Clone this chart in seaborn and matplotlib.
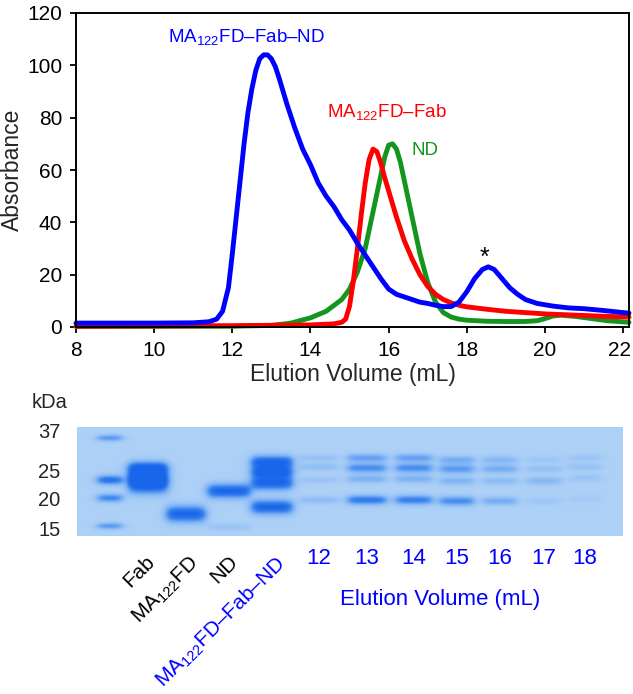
import numpy as np
import matplotlib
matplotlib.use("Agg")
import matplotlib.pyplot as plt
import matplotlib.transforms as mtransforms
from matplotlib.colors import LinearSegmentedColormap
import seaborn as sns

# chromatogram traces (elution volume mL, absorbance)
complex_x = [8.0, 9.0, 10.0, 11.0, 11.4, 11.6, 11.75, 11.9, 12.0, 12.1, 12.2, 12.3, 12.4, 12.5,
             12.6, 12.7, 12.8, 12.9, 13.0, 13.1, 13.2, 13.4, 13.6, 13.8, 14.0, 14.2, 14.4, 14.6,
             14.8, 15.0, 15.2, 15.4, 15.6, 15.8, 16.0, 16.2, 16.4, 16.6, 16.8, 17.0, 17.2, 17.4,
             17.6, 17.8, 18.0, 18.2, 18.4, 18.55, 18.7, 18.9, 19.1, 19.3, 19.5, 19.8, 20.2, 20.6,
             21.0, 21.5, 22.0, 22.15]
complex_y = [1.5, 1.5, 1.5, 1.6, 2.0, 3.0, 6.0, 15.0, 28.0, 42.0, 56.0, 70.0, 82.0, 91.0,
             98.0, 102.5, 104.0, 104.0, 102.5, 99.5, 95.0, 85.0, 76.0, 68.0, 62.0, 55.0, 50.0, 46.0,
             41.0, 37.0, 32.0, 27.5, 23.0, 18.5, 14.5, 12.5, 11.5, 10.5, 9.5, 9.0, 8.3, 7.8,
             7.8, 9.5, 13.5, 18.5, 22.0, 23.0, 22.0, 18.5, 15.0, 12.5, 10.5, 9.0, 8.0, 7.3,
             7.0, 6.3, 5.5, 5.3]

fab_x = [8.0, 10.0, 12.0, 14.0, 14.6, 14.8, 14.9, 15.0, 15.1, 15.2, 15.3, 15.4, 15.5, 15.6,
         15.7, 15.8, 15.9, 16.0, 16.2, 16.4, 16.6, 16.8, 17.0, 17.2, 17.4, 17.6, 17.8, 18.0,
         18.5, 19.0, 19.5, 20.0, 20.5, 21.0, 21.5, 22.15]
fab_y = [0.3, 0.4, 0.5, 0.8, 1.2, 1.8, 3.0, 8.0, 18.0, 30.0, 43.0, 55.0, 64.0, 68.0,
         67.0, 62.5, 57.0, 52.0, 42.0, 33.0, 26.0, 20.0, 15.5, 12.5, 10.5, 9.2, 8.3, 7.7,
         6.8, 6.0, 5.5, 5.0, 4.7, 4.4, 4.1, 3.8]

nd_x = [8.0, 12.0, 13.0, 13.5, 14.0, 14.4, 14.8, 15.0, 15.2, 15.4, 15.6, 15.8, 15.9, 16.0,
        16.1, 16.2, 16.3, 16.4, 16.6, 16.8, 17.0, 17.2, 17.4, 17.6, 17.8, 18.0, 18.5, 19.0,
        19.5, 19.8, 20.0, 20.2, 20.4, 20.8, 21.2, 21.6, 22.15]
nd_y = [0.2, 0.3, 0.6, 1.5, 3.5, 6.0, 10.5, 14.5, 21.0, 30.0, 44.0, 58.0, 65.0, 69.5,
        70.0, 68.0, 63.0, 56.0, 42.0, 28.0, 17.0, 9.5, 5.5, 3.8, 3.0, 2.6, 2.2, 2.1,
        2.1, 2.4, 3.2, 4.2, 4.5, 4.0, 3.2, 2.4, 1.8]

# gel: lane centres (px from gel left), half widths, bands (y px from gel top, strength, spread)
lane_names = ["ladder", "Fab", "MA122FD", "ND", "complex", "12", "13", "14", "15", "16", "17", "18"]
lane_x = [33, 71, 109, 152, 195, 242, 290, 337, 380, 423, 467, 508]
lane_hw = [12, 19, 19, 21, 20, 19, 19, 18, 17, 17, 17, 16]
lane_bands = [
    [(11, 0.5, 2.2), (53, 0.85, 3.2), (71, 0.65, 2.8), (99, 0.5, 2.2)],
    [(41, 1.0, 4.5), (50, 1.0, 5.5), (58, 1.0, 6.0)],
    [(87, 1.0, 5.5)],
    [(64, 1.0, 4.8), (100, 0.12, 2.5)],
    [(35, 1.0, 4.3), (45, 1.0, 4.3), (56, 1.0, 4.8), (80, 1.0, 4.8)],
    [(31, 0.15, 2.5), (40, 0.18, 2.5), (53, 0.12, 2.5), (73, 0.2, 2.5)],
    [(31, 0.45, 2.8), (41, 0.6, 3.2), (52, 0.3, 2.8), (73, 0.75, 3.2)],
    [(31, 0.45, 2.8), (41, 0.6, 3.2), (52, 0.3, 2.8), (73, 0.7, 3.2)],
    [(33, 0.35, 2.8), (42, 0.5, 3.2), (54, 0.28, 2.8), (74, 0.6, 3.2)],
    [(33, 0.25, 2.8), (42, 0.35, 2.8), (54, 0.2, 2.8), (74, 0.35, 2.8)],
    [(33, 0.1, 2.5), (42, 0.15, 2.5), (54, 0.25, 2.8), (74, 0.1, 2.5)],
    [(31, 0.12, 2.5), (40, 0.15, 2.5), (51, 0.12, 2.5), (72, 0.06, 2.5)],
]
kda_labels = ["37", "25", "20", "15"]
kda_y = [4, 44, 71, 102]
elution_lanes = ["12", "13", "14", "15", "16", "17", "18"]

sns.set_style("ticks")
plt.rcParams['font.family'] = ['Liberation Sans', 'DejaVu Sans']
plt.rcParams['mathtext.fontset'] = 'custom'
plt.rcParams['mathtext.rm'] = 'Liberation Sans'

BLUE = "#0000ff"
RED = "#ff0000"
GREEN = "#14961e"

fig = plt.figure(figsize=(6.33, 6.94), dpi=100)

# --- chromatogram ---
ax = fig.add_axes([76 / 633, 1 - 327 / 694, (629 - 76) / 633, (327 - 13) / 694])
sns.lineplot(x=nd_x, y=nd_y, color=GREEN, lw=3.5, ax=ax, clip_on=False)
sns.lineplot(x=fab_x, y=fab_y, color=RED, lw=3.5, ax=ax, clip_on=False)
sns.lineplot(x=complex_x, y=complex_y, color=BLUE, lw=3.5, ax=ax, clip_on=False)
ax.set_xlim(8, 22.15)
ax.set_ylim(0, 120)
ax.set_xticks(range(8, 23, 2))
ax.set_yticks(range(0, 121, 20))
ax.tick_params(direction='out', length=4, width=1.3, labelsize=15, pad=6, colors='black')
for s in ax.spines.values():
    s.set_linewidth(1.4)
    s.set_color('black')
# last x tick label sits at the figure edge; nudge it in a little
last = ax.get_xticklabels()[-1]
last.set_transform(last.get_transform() + mtransforms.ScaledTranslation(-4 / 100, 0, fig.dpi_scale_trans))
ax.set_xlabel("Elution Volume (mL)", fontsize=16.5, labelpad=2)
ax.set_ylabel("Absorbance", fontsize=16.5, labelpad=2)

ax.text(12.36, 110.4, r"MA$_\mathregular{122}$FD–Fab–ND", color=BLUE, fontsize=13.5,
        ha='center', va='center')
ax.text(15.95, 81.8, r"MA$_\mathregular{122}$FD–Fab", color=RED, fontsize=13.5,
        ha='center', va='center')
ax.text(16.92, 67.3, "ND", color=GREEN, fontsize=13.5, ha='center', va='center')
ax.text(18.46, 26.5, "*", color='black', fontsize=18, ha='center', va='center')

# --- gel ---
H, W = 109, 546
yy = np.arange(H)[:, None] + 0.5
xx = np.arange(W)[None, :] + 0.5
gel = np.zeros((H, W))
for xc, hw, bands in zip(lane_x, lane_hw, lane_bands):
    xprof = 1 / (1 + np.exp((np.abs(xx - xc) - hw) / 2.6))
    for yc, amp, sd in bands:
        gel += amp * np.exp(-0.5 * ((yy - yc) / sd) ** 2) * xprof
gel = np.clip(gel, 0, 1)
gel_cmap = LinearSegmentedColormap.from_list(
    "gel", ["#add0f7", "#78aff4", "#3a82ee", "#1966ea"])

gax = fig.add_axes([77 / 633, 1 - 536 / 694, (623 - 77) / 633, (536 - 427) / 694])
gax.imshow(gel, cmap=gel_cmap, vmin=0, vmax=1, extent=(0, W, H, 0), aspect='auto',
           interpolation='bilinear')
gax.set_xlim(0, W)
gax.set_ylim(H, 0)
gax.set_xticks([])
gax.set_yticks(kda_y)
gax.set_yticklabels(kda_labels)
gax.tick_params(axis='y', length=0, labelsize=14.5, pad=12)
for s in gax.spines.values():
    s.set_visible(False)
gax.text(-27, -24, "kDa", fontsize=14.5, ha='center', va='center', clip_on=False)

for name, xc in zip(lane_names, lane_x):
    if name in elution_lanes:
        gax.text(xc, 131, name, color=BLUE, fontsize=16, ha='center', va='center',
                 clip_on=False)

rot_labels = [("Fab", 68, 'black'), (r"MA$_\mathregular{122}$FD", 111, 'black'),
              ("ND", 151, 'black'), (r"MA$_\mathregular{122}$FD–Fab–ND", 198, BLUE)]
for txt, xc, col in rot_labels:
    gax.text(xc, 125, txt, color=col, fontsize=15, rotation=45, rotation_mode='anchor',
             ha='right', va='top', clip_on=False)

gax.text(363, 172, "Elution Volume (mL)", color=BLUE, fontsize=16, ha='center',
         va='center', clip_on=False)

fig.savefig("out.png", dpi=100)
